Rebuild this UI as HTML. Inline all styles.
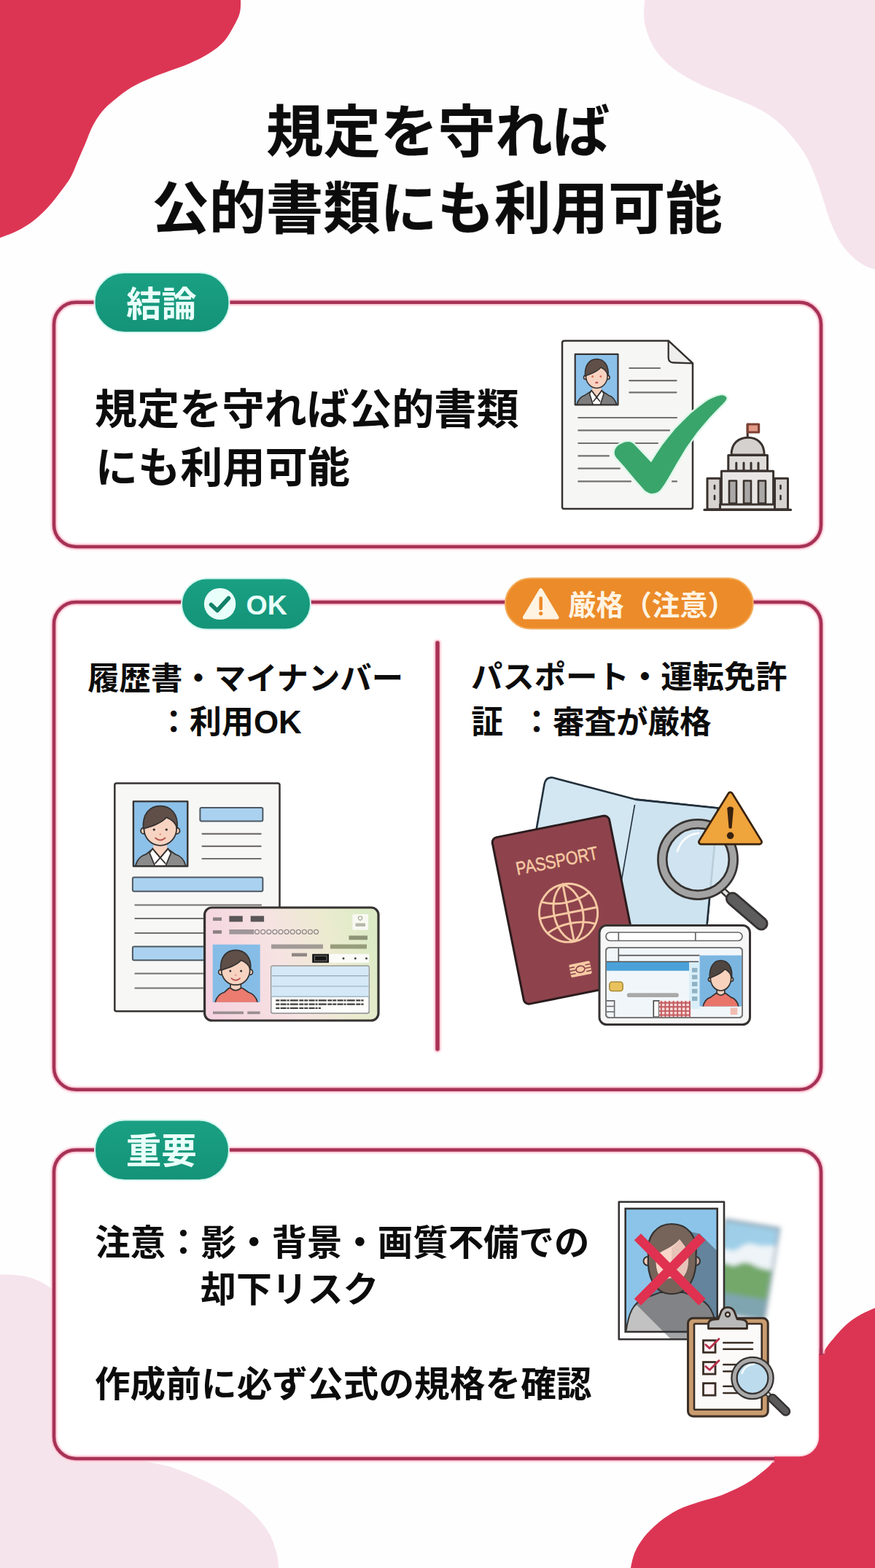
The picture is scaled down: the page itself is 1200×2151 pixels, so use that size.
<!DOCTYPE html>
<html lang="ja">
<head>
<meta charset="utf-8">
<title>規定を守れば公的書類にも利用可能</title>
<style>
html,body{margin:0;padding:0;background:#fefefe;}
body{width:1200px;height:2151px;position:relative;overflow:hidden;font-family:"Liberation Sans","Noto Sans CJK JP",sans-serif;}
#page{position:absolute;left:0;top:0;width:1200px;height:2151px;overflow:hidden;background:#fefefe;}
svg text{font-family:"Liberation Sans","Noto Sans CJK JP",sans-serif;font-weight:bold;}
</style>
</head>
<body>
<div id="page">
<svg width="1200" height="2151" viewBox="0 0 1200 2151" style="position:absolute;left:0;top:0"><defs><clipPath id="cp1"><rect x="788.7" y="485.8" width="58.8" height="69.5"/></clipPath><clipPath id="cp2"><rect x="182.9" y="1099.4" width="74.4" height="88.9"/></clipPath><linearGradient id="mn" x1="0" y1="0.6" x2="1" y2="0.4"><stop offset="0" stop-color="#f5d3e0"/><stop offset="0.45" stop-color="#f6e3e2"/><stop offset="0.75" stop-color="#ecebd0"/><stop offset="1" stop-color="#dcebc6"/></linearGradient><clipPath id="cp3"><rect x="291.7" y="1295.7" width="65" height="79.1"/></clipPath><clipPath id="cp4"><rect x="959.500" y="1310.600" width="57.500" height="70"/></clipPath><filter id="bl" x="-20%" y="-20%" width="140%" height="140%"><feGaussianBlur stdDeviation="3.200"/></filter><clipPath id="cpl"><rect x="0" y="0" width="78" height="130"/></clipPath><clipPath id="cp5"><rect x="857.700" y="1658" width="126" height="169"/></clipPath><clipPath id="cp6"><rect x="857.700" y="1658" width="126" height="178"/></clipPath><linearGradient id="tg" x1="0" y1="0" x2="0" y2="1"><stop offset="0" stop-color="#1aa083"/><stop offset="1" stop-color="#149378"/></linearGradient></defs><path d="M330.0,-5.0C329.8,-1.3 330.7,10.0 329.0,17.0C327.3,24.0 323.7,30.3 320.0,37.0C316.3,43.7 312.5,51.0 307.0,57.0C301.5,63.0 294.8,68.0 287.0,73.0C279.2,78.0 269.0,83.0 260.0,87.0C251.0,91.0 241.8,93.7 233.0,97.0C224.2,100.3 215.8,103.2 207.0,107.0C198.2,110.8 188.3,115.0 180.0,120.0C171.7,125.0 163.7,131.5 157.0,137.0C150.3,142.5 145.0,147.0 140.0,153.0C135.0,159.0 130.8,165.7 127.0,173.0C123.2,180.3 120.3,189.2 117.0,197.0C113.7,204.8 110.3,212.3 107.0,220.0C103.7,227.7 101.0,235.8 97.0,243.0C93.0,250.2 88.0,256.3 83.0,263.0C78.0,269.7 73.0,276.5 67.0,283.0C61.0,289.5 54.3,296.3 47.0,302.0C39.7,307.7 31.7,312.7 23.0,317.0C14.3,321.3 -0.3,326.2 -5.0,328.0 L-5,-5 Z" fill="#dc3554"/>
<path d="M885.0,-5.0C884.7,-0.8 882.7,12.0 883.0,20.0C883.3,28.0 884.5,35.2 887.0,43.0C889.5,50.8 893.3,59.7 898.0,67.0C902.7,74.3 908.5,81.0 915.0,87.0C921.5,93.0 929.0,98.0 937.0,103.0C945.0,108.0 954.2,112.8 963.0,117.0C971.8,121.2 980.5,124.2 990.0,128.0C999.5,131.8 1010.5,135.8 1020.0,140.0C1029.5,144.2 1038.7,148.0 1047.0,153.0C1055.3,158.0 1062.8,163.5 1070.0,170.0C1077.2,176.5 1083.8,184.2 1090.0,192.0C1096.2,199.8 1102.0,207.8 1107.0,217.0C1112.0,226.2 1116.2,237.0 1120.0,247.0C1123.8,257.0 1126.7,267.0 1130.0,277.0C1133.3,287.0 1136.2,297.7 1140.0,307.0C1143.8,316.3 1148.0,325.3 1153.0,333.0C1158.0,340.7 1164.3,347.7 1170.0,353.0C1175.7,358.3 1181.2,362.0 1187.0,365.0C1192.8,368.0 1202.0,370.0 1205.0,371.0 L1205,-5 Z" fill="#f6e4ec"/>
<path d="M-5.0,1748.0C0.8,1748.3 20.0,1748.3 30.0,1750.0C40.0,1751.7 47.5,1754.3 55.0,1758.0C62.5,1761.7 67.5,1765.0 75.0,1772.0C82.5,1779.0 90.8,1778.7 100.0,1800.0C109.2,1821.3 120.0,1870.0 130.0,1900.0C140.0,1930.0 149.0,1962.8 160.0,1980.0C171.0,1997.2 183.8,1997.7 196.0,2003.0C208.2,2008.3 220.5,2008.0 233.0,2012.0C245.5,2016.0 258.5,2021.3 271.0,2027.0C283.5,2032.7 296.2,2038.7 308.0,2046.0C319.8,2053.3 332.2,2062.0 342.0,2071.0C351.8,2080.0 360.8,2090.3 367.0,2100.0C373.2,2109.7 376.3,2119.7 379.0,2129.0C381.7,2138.3 382.3,2151.5 383.0,2156.0 L-5,2156 Z" fill="#f6e4ec"/>
<path d="M1205.0,1792.0C1201.0,1793.8 1188.2,1799.0 1181.0,1803.0C1173.8,1807.0 1168.2,1810.7 1162.0,1816.0C1155.8,1821.3 1149.5,1828.3 1144.0,1835.0C1138.5,1841.7 1134.7,1845.2 1129.0,1856.0C1123.3,1866.8 1116.5,1882.7 1110.0,1900.0C1103.5,1917.3 1098.2,1942.7 1090.0,1960.0C1081.8,1977.3 1069.0,1993.7 1061.0,2004.0C1053.0,2014.3 1048.8,2016.5 1042.0,2022.0C1035.2,2027.5 1028.7,2032.2 1020.0,2037.0C1011.3,2041.8 1000.0,2047.2 990.0,2051.0C980.0,2054.8 970.0,2056.7 960.0,2060.0C950.0,2063.3 939.3,2066.3 930.0,2071.0C920.7,2075.7 911.8,2081.7 904.0,2088.0C896.2,2094.3 888.7,2101.8 883.0,2109.0C877.3,2116.2 873.2,2123.2 870.0,2131.0C866.8,2138.8 865.0,2151.8 864.0,2156.0 L1205,2156 Z" fill="#dc3554"/>
<rect x="74" y="414.8" width="1052" height="335.2" rx="30" ry="30" fill="#ffffff" stroke="#ffdbe4" stroke-opacity=".55" stroke-width="11"/>
<rect x="74" y="414.8" width="1052" height="335.2" rx="30" ry="30" fill="none" stroke="#f5a3b9" stroke-opacity=".55" stroke-width="7.4"/>
<rect x="74" y="414.8" width="1052" height="335.2" rx="30" ry="30" fill="none" stroke="#a63256" stroke-width="4.5"/>
<rect x="74" y="826" width="1052" height="668.8" rx="30" ry="30" fill="#ffffff" stroke="#ffdbe4" stroke-opacity=".55" stroke-width="11"/>
<rect x="74" y="826" width="1052" height="668.8" rx="30" ry="30" fill="none" stroke="#f5a3b9" stroke-opacity=".55" stroke-width="7.4"/>
<rect x="74" y="826" width="1052" height="668.8" rx="30" ry="30" fill="none" stroke="#a63256" stroke-width="4.5"/>
<rect x="74" y="1577.6" width="1052" height="423.4000000000001" rx="30" ry="30" fill="#ffffff" stroke="#ffdbe4" stroke-opacity=".55" stroke-width="11"/>
<rect x="74" y="1577.6" width="1052" height="423.4000000000001" rx="30" ry="30" fill="none" stroke="#f5a3b9" stroke-opacity=".55" stroke-width="7.4"/>
<rect x="74" y="1577.6" width="1052" height="423.4000000000001" rx="30" ry="30" fill="none" stroke="#a63256" stroke-width="4.5"/>
<path d="M1128,1857 L1128,1971 A32,32 0 0 1 1096,2003 L1062,2003" fill="none" stroke="#dc3554" stroke-width="9.4"/>
<path d="M1126,1850 L1126,1859" fill="none" stroke="#a63256" stroke-width="4.5"/>
<line x1="600" y1="882" x2="600" y2="1439" stroke="#ffdbe4" stroke-opacity=".55" stroke-width="12" stroke-linecap="round"/>
<line x1="600" y1="882" x2="600" y2="1439" stroke="#f5a3b9" stroke-opacity=".55" stroke-width="8.4" stroke-linecap="round"/>
<line x1="600" y1="882" x2="600" y2="1439" stroke="#a63256" stroke-width="5.4" stroke-linecap="round"/>
<text x="365.04" y="209.29" font-size="78.55" fill="#0c0c0c" stroke="#0c0c0c" stroke-width="0.25" stroke-linejoin="round">規定を守れば</text>
<text x="208.56" y="314.49" font-size="78.22" fill="#0c0c0c" stroke="#0c0c0c" stroke-width="0.25" stroke-linejoin="round">公的書類にも利用可能</text>
<rect x="129.5" y="374" width="185.0" height="82" rx="41.0" fill="url(#tg)" stroke="#d4f6ef" stroke-width="2"/>
<text x="173.23" y="434.40" font-size="48.17" fill="#e9fff9">結論</text>
<rect x="130" y="1536.5" width="184" height="82.5" rx="41.25" fill="url(#tg)" stroke="#d4f6ef" stroke-width="2"/>
<text x="172.76" y="1596.41" font-size="48.59" fill="#e9fff9">重要</text>
<rect x="249" y="793.6" width="177" height="70.0" rx="35.0" fill="url(#tg)" stroke="#d4f6ef" stroke-width="2"/>
<circle cx="301.6" cy="828.4" r="21.7" fill="#e9fff9"/>
<path d="M289.5,829.5 L298,837.5 L313.5,820.5" fill="none" stroke="#14806a" stroke-width="5.6" stroke-linecap="round" stroke-linejoin="round"/>
<text x="337.57" y="843.07" font-size="37.55" fill="#e9fff9">OK</text>
<rect x="693" y="793.3" width="339.79999999999995" height="69.20000000000005" rx="34.60000000000002" fill="#ec8b29" stroke="#f3ac5c" stroke-width="2"/>
<path d="M741.7,809.5 L764,847 L719.4,847 Z" fill="#fff3e2" stroke="#fff3e2" stroke-width="5" stroke-linejoin="round"/>
<path d="M741.7,820.5 L741.7,835" stroke="#ec8b29" stroke-width="4.6" stroke-linecap="round"/><circle cx="741.7" cy="841.6" r="2.7" fill="#ec8b29"/>
<text x="779.24" y="843.59" font-size="38.24" fill="#fff3e2">厳格（注意）</text>
<text x="129.85" y="581.71" font-size="58.19" fill="#0c0c0c">規定を守れば公的書類</text>
<text x="130.76" y="661.86" font-size="58.22" fill="#0c0c0c">にも利用可能</text>
<text x="120.22" y="945.91" font-size="43.38" fill="#0c0c0c">履歴書・マイナンバー</text>
<text x="216.22" y="1005.92" font-size="43.9" fill="#0c0c0c">：利用OK</text>
<text x="646.04" y="944.14" font-size="43.37" fill="#0c0c0c">パスポート・運転免許</text>
<text x="646.29" y="1006.07" font-size="43.8" fill="#0c0c0c">証</text>
<text x="714.36" y="1006.06" font-size="43.55" fill="#0c0c0c">：審査が厳格</text>
<text x="130.29" y="1721.60" font-size="48.45" fill="#0c0c0c">注意：影・背景・画質不備での</text>
<text x="275.03" y="1786.19" font-size="48.9" fill="#0c0c0c">却下リスク</text>
<text x="129.93" y="1915.75" font-size="48.7" fill="#0c0c0c">作成前に必ず公式の規格を確認</text>
<path d="M771,470.5 Q771,467.5 774,467.5 L916.7,467.5 L950,498.3 L950,695.5 Q950,698 947.5,698 L773.5,698 Q771,698 771,695.5 Z" fill="#f6f6f4" stroke="#353231" stroke-width="2.5" stroke-linejoin="round"/>
<path d="M916.7,467.5 L916.7,490.5 Q916.7,497.3 923.5,497.5 L950,498.3 Z" fill="#eeeeec" stroke="#353231" stroke-width="2.3" stroke-linejoin="round"/>
<rect x="788.7" y="485.8" width="58.8" height="69.5" fill="#8cc1e9"/>
<g clip-path="url(#cp1)" stroke="#353231" stroke-width="1.6" stroke-linejoin="round" stroke-linecap="round"><path d="M790.3,558.3 C792.0,548.0 795.9,543.8 802.6,541.9 L811.3,536.1 L825.3,536.1 L834.0,541.9 C840.7,543.8 844.6,548.0 846.3,558.3 Z" fill="#7d7d7d"/><path d="M811.3,535.6 L818.3,544.1 L825.3,535.6 L828.1,540.1 L822.3,558.3 L814.3,558.3 L808.5,540.1 Z" fill="#ffffff"/><path d="M811.3,535.6 L818.3,544.9 L825.3,535.6 M818.3,544.9 L813.9,550.5 M818.3,544.9 L822.7,550.5" fill="none"/><path d="M812.8,527.7 L811.9,536.1 L818.3,544.1 L824.7,536.1 L823.8,527.7 Z" fill="#f7d3c1" stroke="none"/><path d="M811.3,535.6 L818.3,544.9 L825.3,535.6" fill="none"/><circle cx="803.3" cy="517.7" r="2.8" fill="#f7d3c1"/><circle cx="833.3" cy="517.7" r="2.8" fill="#f7d3c1"/><ellipse cx="818.3" cy="515.7" rx="14.8" ry="16.8" fill="#f7d3c1"/><path d="M802.6,515.7 C801.4,500.5 808.8,492.5 818.3,492.5 C827.8,492.5 835.2,500.5 834.0,514.9 C832.4,510.1 828.7,506.1 823.9,504.1 C819.8,509.7 810.9,512.9 802.6,515.7 Z" fill="#5f4f48"/><circle cx="812.7" cy="516.5" r="1.1" fill="#353231" stroke="none"/><circle cx="823.9" cy="516.5" r="1.1" fill="#353231" stroke="none"/><circle cx="812.7" cy="516.5" r="1.4" fill="#e0795a" stroke="none"/><circle cx="823.9" cy="516.5" r="1.4" fill="#e0795a" stroke="none"/><ellipse cx="818.3" cy="524.9" rx="2.2" ry="1.4" fill="#c65a5a" stroke="none"/></g>
<rect x="788.7" y="485.8" width="58.8" height="69.5" fill="none" stroke="#353231" stroke-width="2.2" stroke-linejoin="round"/>
<line x1="863.3" y1="505" x2="905" y2="505" stroke="#73716e" stroke-width="2.2" stroke-linecap="round"/>
<line x1="863.3" y1="522.2" x2="927.5" y2="522.2" stroke="#73716e" stroke-width="2.2" stroke-linecap="round"/>
<line x1="863.3" y1="538.3" x2="927.5" y2="538.3" stroke="#73716e" stroke-width="2.2" stroke-linecap="round"/>
<line x1="793.3" y1="573" x2="928" y2="573" stroke="#73716e" stroke-width="2.2" stroke-linecap="round"/>
<line x1="793.3" y1="590.4" x2="918" y2="590.4" stroke="#73716e" stroke-width="2.2" stroke-linecap="round"/>
<line x1="793.3" y1="608" x2="902" y2="608" stroke="#73716e" stroke-width="2.2" stroke-linecap="round"/>
<line x1="793.3" y1="625.4" x2="835" y2="625.4" stroke="#73716e" stroke-width="2.2" stroke-linecap="round"/>
<line x1="793.3" y1="642.6" x2="850" y2="642.6" stroke="#73716e" stroke-width="2.2" stroke-linecap="round"/>
<line x1="793.3" y1="660.4" x2="865" y2="660.4" stroke="#73716e" stroke-width="2.2" stroke-linecap="round"/>
<line x1="922" y1="660.4" x2="928" y2="660.4" stroke="#73716e" stroke-width="2.2" stroke-linecap="round"/>
<path d="M842.8,620 C843.5,614 848,610 853,608.3 C857,606 862.5,605.2 866,607 C868,608 869,608.7 870,610 L893,634.3 C898,626 903,618.5 908,611 C914,603 920,595.5 926,588.5 C933,581 940,574 947,567.5 C954,561.5 961,556 968,551 C974.5,547 981,544 987.5,542.6 C990.5,542 993,542.5 994.5,543.6 C996.5,544.8 996.8,546.3 996.3,547.6 C994.5,551 992,553.5 989,556.3 C983.5,562 978,567.7 972.5,573.5 C967,580 961.5,586.5 956,593 C951,600 946,607 941,614 C936.5,621.5 932,629 927.5,636.5 C923.5,643.5 919.5,650.5 915.5,657.5 C912.5,662.5 909.5,667 906.5,671 C904,674 902,675.5 899,676.3 C896.5,677 894,677 891.5,676.7 C889,676 886.5,674.5 884,672.5 C880,668 876,663.5 872,659 L857,641 L845,627.5 C843.3,625 842.5,622.5 842.8,620 Z" fill="#3aa56b" stroke="#def8ea" stroke-width="4.6" paint-order="stroke" stroke-linejoin="round"/>
<g stroke="#3a322e" stroke-width="3" stroke-linejoin="round" stroke-linecap="round"><line x1="1025.2" y1="582" x2="1025.2" y2="601"/><rect x="1025.2" y="582" width="15.4" height="11" fill="#e49a88" stroke="#7d4034" stroke-width="3.2"/><path d="M1003,624 C1003,608 1013,600.3 1025.6,600.3 C1038.2,600.3 1048.2,608 1048.2,624 Z" fill="#d5d1ce"/><rect x="998.8" y="624.4" width="53.7" height="21.6" fill="#dedbd8"/><line x1="1009.8" y1="635" x2="1009.8" y2="645.5"/><line x1="1020" y1="635" x2="1020" y2="645.5"/><line x1="1030" y1="635" x2="1030" y2="645.5"/><line x1="1040" y1="635" x2="1040" y2="645.5"/><rect x="970" y="656.3" width="18" height="42.5" fill="#d6d3d0"/><rect x="1062.5" y="656.3" width="18" height="42.5" fill="#d6d3d0"/><line x1="980" y1="666" x2="980" y2="670.5" stroke-width="2.6"/><line x1="980" y1="680" x2="980" y2="685" stroke-width="2.6"/><line x1="1070.5" y1="666" x2="1070.5" y2="670.5" stroke-width="2.6"/><line x1="1070.5" y1="680" x2="1070.5" y2="685" stroke-width="2.6"/><rect x="989.4" y="646.3" width="71.2" height="46.5" fill="#e9e7e5"/><rect x="1000" y="659.5" width="10" height="31" fill="#aaa8a7" stroke-width="2.6"/><rect x="1020" y="659.5" width="10" height="31" fill="#aaa8a7" stroke-width="2.6"/><rect x="1040" y="659.5" width="10" height="31" fill="#aaa8a7" stroke-width="2.6"/><rect x="987.5" y="692" width="75" height="7" fill="#ebe9e7"/><line x1="966" y1="699.4" x2="1084.5" y2="699.4" stroke-width="3.2"/></g>
<path d="M157.3,1077 Q157.3,1074.6 159.8,1074.6 L381,1074.6 Q383.5,1074.6 383.5,1077 L383.5,1385 Q383.5,1387.3 381,1387.3 L159.8,1387.3 Q157.3,1387.3 157.3,1385 Z" fill="#f7f7f5" stroke="#353231" stroke-width="2.5" stroke-linejoin="round"/>
<rect x="182.9" y="1099.4" width="74.4" height="88.9" fill="#8cc1e9"/>
<g clip-path="url(#cp2)" stroke="#353231" stroke-width="1.8" stroke-linejoin="round" stroke-linecap="round"><path d="M185.0,1191.3 C187.1,1179.3 192.1,1174.1 200.5,1171.8 L209.3,1164.7 L230.3,1164.7 L240.1,1171.8 C248.5,1174.1 253.5,1179.3 255.6,1191.3 Z" fill="#8b8b8b"/><path d="M209.3,1164.2 L219.8,1175.5 L230.3,1164.2 L234.5,1170.1 L225.8,1191.3 L213.8,1191.3 L205.1,1170.1 Z" fill="#ffffff"/><path d="M209.3,1164.2 L219.8,1176.6 L230.3,1164.2 M219.8,1176.6 L213.1,1184.2 M219.8,1176.6 L226.5,1184.2" fill="none"/><path d="M211.5,1153.3 L209.9,1164.7 L219.8,1175.5 L229.7,1164.7 L228.1,1153.3 Z" fill="#f7d3c1" stroke="none"/><path d="M209.3,1164.2 L219.8,1176.6 L230.3,1164.2" fill="none"/><circle cx="197.3" cy="1139.7" r="4.2" fill="#f7d3c1"/><circle cx="242.3" cy="1139.7" r="4.2" fill="#f7d3c1"/><ellipse cx="219.8" cy="1137.0" rx="22.3" ry="22.8" fill="#f7d3c1"/><path d="M196.6,1137.0 C194.8,1116.4 205.5,1105.6 219.8,1105.6 C234.1,1105.6 244.8,1116.4 243.0,1136.0 C241.0,1129.4 235.4,1124.0 228.3,1121.3 C222.0,1128.9 208.7,1133.2 196.6,1137.0 Z" fill="#5f4f48"/><circle cx="211.3" cy="1138.1" r="1.7" fill="#353231" stroke="none"/><circle cx="228.3" cy="1138.1" r="1.7" fill="#353231" stroke="none"/><path d="M213.1,1149.5 Q219.8,1155.5 226.5,1149.5" fill="none" stroke="#b8514a" stroke-width="1.8"/><circle cx="219.8" cy="1144.6" r="1.3" fill="#e39a8a" stroke="none"/></g>
<rect x="182.9" y="1099.4" width="74.4" height="88.9" fill="none" stroke="#353231" stroke-width="2.4" stroke-linejoin="round"/>
<rect x="274.4" y="1108" width="86" height="18.5" rx="2" fill="#aad2f0" stroke="#4d5862" stroke-width="2"/>
<rect x="181.9" y="1203.5" width="178.5" height="19.2" rx="2" fill="#aad2f0" stroke="#4d5862" stroke-width="2"/>
<rect x="181.9" y="1298.4" width="178.5" height="18.8" rx="2" fill="#aad2f0" stroke="#4d5862" stroke-width="2"/>
<line x1="277.5" y1="1143.8" x2="357.7" y2="1143.8" stroke="#73716e" stroke-width="2.2" stroke-linecap="round"/>
<line x1="277.5" y1="1160.8" x2="357.7" y2="1160.8" stroke="#73716e" stroke-width="2.2" stroke-linecap="round"/>
<line x1="277.5" y1="1178" x2="357.7" y2="1178" stroke="#73716e" stroke-width="2.2" stroke-linecap="round"/>
<line x1="185.4" y1="1241.5" x2="358" y2="1241.5" stroke="#73716e" stroke-width="2.2" stroke-linecap="round"/>
<line x1="185.4" y1="1260" x2="358" y2="1260" stroke="#73716e" stroke-width="2.2" stroke-linecap="round"/>
<line x1="185.4" y1="1280" x2="358" y2="1280" stroke="#73716e" stroke-width="2.2" stroke-linecap="round"/>
<line x1="185.4" y1="1335.5" x2="358" y2="1335.5" stroke="#73716e" stroke-width="2.2" stroke-linecap="round"/>
<line x1="185.4" y1="1355.5" x2="358" y2="1355.5" stroke="#73716e" stroke-width="2.2" stroke-linecap="round"/>
<rect x="280.6" y="1245" width="238.4" height="155" rx="10" fill="url(#mn)" stroke="#353231" stroke-width="3.2"/>
<rect x="291.7" y="1295.7" width="65" height="79.1" fill="#86bde7"/>
<g clip-path="url(#cp3)" stroke="#353231" stroke-width="1.7" stroke-linejoin="round" stroke-linecap="round"><path d="M294.5,1377.8 C296.3,1367.5 300.4,1363.2 307.5,1361.3 L314.0,1355.5 L332.4,1355.5 L340.8,1361.3 C347.9,1363.2 352.0,1367.5 353.8,1377.8 Z" fill="#ec7b70"/><path d="M316.0,1345.5 L316.0,1355.5 Q323.2,1361.7 330.4,1355.5 L330.4,1345.5 Z" fill="#f7d3c1"/><circle cx="303.5" cy="1333.5" r="3.7" fill="#f7d3c1"/><circle cx="342.9" cy="1333.5" r="3.7" fill="#f7d3c1"/><ellipse cx="323.2" cy="1331.1" rx="19.5" ry="20.1" fill="#f7d3c1"/><path d="M302.8,1331.1 C301.2,1312.9 310.7,1303.3 323.2,1303.3 C335.7,1303.3 345.2,1312.9 343.6,1330.1 C341.7,1324.4 336.8,1319.6 330.6,1317.2 C325.1,1323.9 313.4,1327.7 302.8,1331.1 Z" fill="#5f4f48"/><circle cx="315.8" cy="1332.0" r="1.5" fill="#353231" stroke="none"/><circle cx="330.6" cy="1332.0" r="1.5" fill="#353231" stroke="none"/><path d="M317.3,1342.1 Q323.2,1347.4 329.1,1342.1" fill="none" stroke="#b8514a" stroke-width="1.7"/><circle cx="323.2" cy="1337.8" r="1.2" fill="#e39a8a" stroke="none"/></g>
<rect x="292" y="1258.5" width="12" height="4.6" fill="#6f6a6c" opacity=".8"/><rect x="314.4" y="1256.5" width="18.4" height="8" fill="#5a5557"/><rect x="343.7" y="1256.5" width="18.4" height="8" fill="#5a5557"/><rect x="292" y="1276.2" width="12" height="4.6" fill="#6f6a6c" opacity=".8"/><rect x="314.4" y="1275" width="34" height="6.6" fill="#8f8a8c" opacity=".85"/><circle cx="352.6" cy="1278.3" r="3" fill="none" stroke="#8f8a8c" stroke-width="1.3"/><circle cx="360.7" cy="1278.3" r="3" fill="none" stroke="#8f8a8c" stroke-width="1.3"/><circle cx="368.8" cy="1278.3" r="3" fill="none" stroke="#8f8a8c" stroke-width="1.3"/><circle cx="376.9" cy="1278.3" r="3" fill="none" stroke="#8f8a8c" stroke-width="1.3"/><circle cx="385.0" cy="1278.3" r="3" fill="none" stroke="#8f8a8c" stroke-width="1.3"/><circle cx="393.1" cy="1278.3" r="3" fill="none" stroke="#8f8a8c" stroke-width="1.3"/><circle cx="401.2" cy="1278.3" r="3" fill="none" stroke="#8f8a8c" stroke-width="1.3"/><circle cx="409.3" cy="1278.3" r="3" fill="none" stroke="#8f8a8c" stroke-width="1.3"/><circle cx="417.4" cy="1278.3" r="3" fill="none" stroke="#8f8a8c" stroke-width="1.3"/><circle cx="425.5" cy="1278.3" r="3" fill="none" stroke="#8f8a8c" stroke-width="1.3"/><circle cx="433.6" cy="1278.3" r="3" fill="none" stroke="#8f8a8c" stroke-width="1.3"/><rect x="483.4" y="1254" width="21.7" height="21.7" rx="1.5" fill="#fbfbf6" opacity=".9"/><path d="M491.5,1258 q3,-2 5,0 q1,3 -2.5,4.500 q-3.500,-1.500 -2.500,-4.500 Z" fill="none" stroke="#9aa08a" stroke-width="1.1"/><rect x="487.5" y="1266.5" width="13.5" height="4.4" fill="#a3a896" opacity=".8"/><rect x="478.5" y="1283.5" width="25.5" height="5.8" fill="#7e8468" opacity=".85"/><rect x="372" y="1295.500" width="71" height="6" fill="#86807f" opacity=".75"/><rect x="453" y="1295.500" width="50" height="6" fill="#838866" opacity=".8"/><rect x="400" y="1307.500" width="21" height="4.600" fill="#77706f" opacity=".8"/><rect x="428.2" y="1308.700" width="23" height="12" fill="#151515"/><rect x="431.500" y="1311.300" width="16.500" height="6.800" fill="none" stroke="#777" stroke-width="1"/><rect x="451.2" y="1308.700" width="55" height="12" fill="#fbfbf8"/><circle cx="471" cy="1314.700" r="1.500" fill="#444"/><circle cx="487.3" cy="1314.700" r="1.500" fill="#444"/><circle cx="502.5" cy="1314.700" r="1.500" fill="#444"/><rect x="371.800" y="1325" width="134.400" height="65" rx="2.500" fill="#fdfdfb" stroke="#8a8d8f" stroke-width="1.400"/><rect x="372.600" y="1325.800" width="132.800" height="41.400" fill="#d5e8f5"/><line x1="372.600" y1="1338.6" x2="505.400" y2="1338.6" stroke="#8fa9bb" stroke-width="1.200"/><line x1="372.600" y1="1353" x2="505.400" y2="1353" stroke="#8fa9bb" stroke-width="1.200"/><line x1="372.600" y1="1367.2" x2="505.400" y2="1367.2" stroke="#8fa9bb" stroke-width="1.200"/><line x1="378.300" y1="1372.4" x2="498.6" y2="1372.4" stroke="#3c3c3c" stroke-width="2.200" stroke-dasharray="5 1.300 8 1 3 1.200 11 1.500 6 1"/><line x1="378.300" y1="1377.6" x2="498.6" y2="1377.6" stroke="#3c3c3c" stroke-width="2.200" stroke-dasharray="5 1.300 8 1 3 1.200 11 1.500 6 1"/><line x1="378.300" y1="1383" x2="440" y2="1383" stroke="#3c3c3c" stroke-width="2.200" stroke-dasharray="5 1.300 8 1 3 1.200 11 1.500 6 1"/><rect x="292" y="1387.500" width="42" height="3.600" fill="#7b7577" opacity=".75"/><rect x="339.300" y="1387.500" width="17.400" height="3.600" fill="#7b7577" opacity=".75"/>
<path d="M746.5,1076 Q748.5,1065.500 758,1066.800 L871,1096.600 L984.700,1108.500 L968,1285 L735,1285 L722,1215 Z" fill="#d3e7f2" stroke="#22303c" stroke-width="2.600" stroke-linejoin="round"/>
<path d="M871,1098 L984,1109.500 L968,1284 L838,1284 Z" fill="#cde3ef"/>
<path d="M870.500,1104 L838,1290" stroke="#22303c" stroke-width="1.600" fill="none"/>
<path d="M871,1096.600 L984.700,1108.500 L968.500,1280" stroke="#22303c" stroke-width="2.600" fill="none" stroke-linejoin="round"/>
<g transform="translate(674 1150) rotate(-11.3)"><rect x="0" y="0" width="163.500" height="233" rx="7" fill="#8e434c" stroke="#2b1c1e" stroke-width="3"/><text transform="translate(25 56.5) scale(1 1.197)" x="0" y="0" font-size="21.3" style="font-family:'Liberation Sans',sans-serif;font-weight:normal" fill="#f6c9a3" stroke="#f6c9a3" stroke-width="0.45">PASSPORT</text><g fill="none" stroke="#f6c9a3" stroke-width="2.900" stroke-linecap="round"><circle cx="83.500" cy="121" r="40"/><path d="M83.500,81 L83.500,161 M43.500,121 L123.500,121"/><path d="M83.500,81 C57,95 57,147 83.500,161 M83.500,81 C110,95 110,147 83.500,161"/><path d="M50,99 C70,109 97,109 117,99 M50,143 C70,133 97,133 117,143"/></g><g><rect x="70" y="191" width="29" height="18" rx="2" fill="#f6c9a3"/><path d="M70,200 L78,200 M91,200 L99,200 M70,195.500 L77,195.500 M70,204.500 L77,204.500 M92,195.500 L99,195.500 M92,204.500 L99,204.500" stroke="#8e434c" stroke-width="1.600"/><ellipse cx="84.500" cy="200" rx="6" ry="4.500" fill="none" stroke="#8e434c" stroke-width="1.700"/></g></g>
<path d="M990,1220 L1003,1232.500" stroke="#353231" stroke-width="9" stroke-linecap="round"/><path d="M990,1220 L1003,1232.500" stroke="#e4e4e4" stroke-width="4.500" stroke-linecap="round"/>
<path d="M1004.500,1233 L1044,1267" stroke="#353231" stroke-width="19" stroke-linecap="round"/><path d="M1004.500,1233 L1044,1267" stroke="#5d5d5d" stroke-width="13.500" stroke-linecap="round"/>
<circle cx="957" cy="1179" r="48.700" fill="#cfe4f0" fill-opacity=".88" stroke="#353231" stroke-width="14.500"/>
<circle cx="957" cy="1179" r="48.700" fill="none" stroke="#a3a3a3" stroke-width="9"/>
<path d="M929,1168 C933,1153 945,1144 958,1143" fill="none" stroke="#ffffff" stroke-width="2.600" stroke-linecap="round"/>
<path d="M1001.600,1090 L1041.500,1155 L961.500,1155 Z" fill="#f0a43c" stroke="#38220f" stroke-width="9" stroke-linejoin="round"/>
<path d="M1001.600,1090 L1041.500,1155 L961.500,1155 Z" fill="#f0a43c" stroke="#f0a43c" stroke-width="3.500" stroke-linejoin="round"/>
<path d="M997.200,1108.500 Q1001.600,1104.500 1006,1108.500 L1003.600,1135.500 Q1001.600,1138 999.600,1135.500 Z" fill="#38220f"/><circle cx="1001.600" cy="1146.300" r="4.800" fill="#38220f"/>
<rect x="822" y="1269.500" width="206.500" height="136" rx="10" fill="#f6f6f6" stroke="#353231" stroke-width="3"/>
<rect x="831" y="1279" width="187" height="11.500" rx="5.700" fill="#ffffff" stroke="#666" stroke-width="1.700"/><path d="M848.300,1279 V1290.500 M953.800,1279 V1290.500" stroke="#666" stroke-width="1.700"/><rect x="831" y="1300" width="187" height="96" rx="4.500" fill="#f1f6fa" stroke="#777" stroke-width="2"/><path d="M848.300,1300 V1319 M848.300,1310.600 H959.500 M832,1319.300 H958" stroke="#555" stroke-width="1.600" fill="none"/><rect x="832" y="1320" width="113" height="11.700" fill="#4aa1d9"/><rect x="945" y="1320" width="14.500" height="64" fill="#d9eef8"/><rect x="949" y="1327.8" width="7.400" height="6" fill="#8fb2c4"/><rect x="949" y="1337.4" width="7.400" height="6" fill="#8fb2c4"/><rect x="949" y="1347" width="7.400" height="6" fill="#8fb2c4"/><rect x="949" y="1356.6" width="7.400" height="6" fill="#8fb2c4"/><rect x="949" y="1367" width="7.400" height="6" fill="#8fb2c4"/><rect x="835.900" y="1347" width="18.200" height="12.500" rx="3.500" fill="#e9c25e" stroke="#a98a36" stroke-width="1.600"/><rect x="859.800" y="1362.300" width="71" height="5.700" rx="2.800" fill="#a9a9a9"/><rect x="896.300" y="1372.900" width="7.700" height="22.200" fill="#fff" stroke="#444" stroke-width="1.600"/><rect x="904" y="1372.900" width="42" height="22.200" fill="#f6dada"/><path d="M906.8,1372.900 V1395.100 M912.4,1372.900 V1395.100 M918.0,1372.900 V1395.100 M923.6,1372.900 V1395.100 M929.2,1372.900 V1395.100 M934.8,1372.900 V1395.100 M940.4,1372.900 V1395.100 M946.0,1372.900 V1395.100 M904,1375.7 H946 M904,1381.3 H946 M904,1386.9 H946 M904,1392.5 H946 " stroke="#c25a5e" stroke-width="1.900" fill="none"/><path d="M832,1372.900 H842.600 V1395 M832,1380.500 H842.600 M832,1388 H842.600" stroke="#666" stroke-width="1.600" fill="none"/><rect x="959.500" y="1310.600" width="57.500" height="70" fill="#7bb6e1"/><rect x="1001.700" y="1382.500" width="9.600" height="9.500" fill="#f1b3a5" opacity=".85"/>
<g clip-path="url(#cp4)" stroke="#353231" stroke-width="1.7" stroke-linejoin="round" stroke-linecap="round"><path d="M963.5,1383.6 C965.0,1373.8 968.5,1369.9 974.5,1368.1 L981.8,1362.7 L995.2,1362.7 L1002.5,1368.1 C1008.5,1369.9 1012.0,1373.8 1013.5,1383.6 Z" fill="#e9756a"/><path d="M983.2,1354.0 L983.2,1362.7 Q988.5,1368.1 993.8,1362.7 L993.8,1354.0 Z" fill="#f9d2bd"/><circle cx="974.1" cy="1343.6" r="2.7" fill="#f9d2bd"/><circle cx="1002.9" cy="1343.6" r="2.7" fill="#f9d2bd"/><ellipse cx="988.5" cy="1341.6" rx="14.2" ry="17.4" fill="#f9d2bd"/><path d="M973.4,1341.6 C972.3,1325.8 979.4,1317.5 988.5,1317.5 C997.6,1317.5 1004.7,1325.8 1003.6,1340.7 C1002.0,1335.8 998.4,1331.6 993.9,1329.5 C989.9,1335.3 981.4,1338.7 973.4,1341.6 Z" fill="#4f4641"/></g>
<rect x="831" y="1300" width="187" height="96" rx="4.500" fill="none" stroke="#777" stroke-width="2"/>
<g filter="url(#bl)"><g transform="translate(993.800 1671) rotate(9.500)"><g clip-path="url(#cpl)"><rect x="0" y="0" width="78" height="130" fill="#8c9fae"/><rect x="3" y="4" width="72" height="100" fill="#9fcfe8"/><path d="M3,42 C12,40 18,46 26,38 C32,30 40,27 48,29 C58,31 66,26 75,26 L75,72 L3,72 Z" fill="#eef4f8"/><path d="M3,62 C12,58 20,66 28,60 C34,55 42,54 50,57 C58,60 66,60 75,60 L75,104 L3,104 Z" fill="#73a86a"/><rect x="3" y="101" width="72" height="27" fill="#7fa5b0"/></g></g></g>
<rect x="848.800" y="1648.800" width="144.200" height="188.500" fill="#fdfdfd" stroke="#353231" stroke-width="2.600" stroke-linejoin="round"/>
<g clip-path="url(#cp5)"><rect x="857.700" y="1658" width="126" height="169" fill="#8cc4e9"/><path d="M858,1830 C862,1800 868,1788 884,1781 L905,1773 L938,1773 L958,1781 C973,1788 980,1800 984,1830 Z" fill="#c2c2c2" stroke="#353231" stroke-width="2"/></g>
<rect x="857.700" y="1658" width="126" height="169" fill="none" stroke="#353231" stroke-width="2.600"/>
<g clip-path="url(#cp6)"><path d="M925,1685 L959.800,1692.500 L1080,1812.700 L1080,1900 L983,1900 L871.300,1788.300 L905,1752 Z" fill="#2f3338" opacity=".44"/></g>
<g clip-path="url(#cp5)"><circle cx="888.500" cy="1730" r="6" fill="#f4cbb9" stroke="#353231" stroke-width="2"/><circle cx="954" cy="1730" r="6" fill="#caa99d" stroke="#353231" stroke-width="2"/><path d="M889,1722 C886,1694 902,1679 921,1679 C942,1679 957,1694 954.500,1722 C956,1750 946,1775 921,1775 C897,1775 887,1750 889,1722 Z" fill="#76645a" stroke="#353231" stroke-width="2.200"/><path d="M900,1722 C906,1716 922,1712 932,1700 C938,1708 944,1714 944,1724 C945,1740 940,1752 931,1757 C925,1752 917,1752 911,1757 C902,1752 898,1738 900,1722 Z" fill="#f8d6ca"/><path d="M932,1700 C938,1708 944,1714 944,1724 C945,1740 940,1752 931,1757 C928,1754 925,1753 921,1753 L921,1712 C926,1709 929,1705 932,1700 Z" fill="#d9b5a9" opacity=".55"/></g>
<path d="M874.400,1696.700 L963,1786.300 M963,1696.700 L874.400,1786.300" stroke="#e03150" stroke-width="13" stroke-linecap="butt"/>
<rect x="943.500" y="1808.300" width="109.700" height="134.600" rx="7" fill="#c99c6f" stroke="#3a2e26" stroke-width="3"/>
<rect x="952" y="1816" width="92.700" height="117.700" rx="1.500" fill="#fbfaf8" stroke="#3a2e26" stroke-width="2.600"/>
<path d="M971.500,1822.500 L971.500,1816 Q972,1810.500 979,1810 L985,1809.500 Q987.500,1803 989,1799 Q992,1793.300 998,1793.300 Q1004,1793.300 1007,1799 Q1008.500,1803 1011,1809.500 L1017,1810 Q1024,1810.500 1024.500,1816 L1024.500,1822.500 Z" fill="#b9b9b9" stroke="#3a2e26" stroke-width="2.800" stroke-linejoin="round"/>
<circle cx="998" cy="1803.200" r="3" fill="#fbfaf8" stroke="#3a2e26" stroke-width="2.400"/>
<rect x="964.500" y="1838.8" width="16.500" height="16.500" fill="#fdf3f3" stroke="#3a2e26" stroke-width="2.800"/>
<rect x="964.500" y="1868.5" width="16.500" height="16.500" fill="#fdf3f3" stroke="#3a2e26" stroke-width="2.800"/>
<rect x="964.500" y="1897.6" width="16.500" height="16.500" fill="#fdf3f3" stroke="#3a2e26" stroke-width="2.800"/>
<path d="M967.800,1844.8 L973.200,1849.6 L986,1836.8" fill="none" stroke="#b62f4b" stroke-width="2.800" stroke-linecap="round" stroke-linejoin="round"/>
<path d="M967.800,1874.5 L973.200,1879.3 L986,1866.5" fill="none" stroke="#b62f4b" stroke-width="2.800" stroke-linecap="round" stroke-linejoin="round"/>
<line x1="992.300" y1="1842" x2="1032" y2="1842" stroke="#3a2e26" stroke-width="2.600" stroke-linecap="round"/>
<line x1="992.300" y1="1850.8" x2="1032" y2="1850.8" stroke="#3a2e26" stroke-width="2.600" stroke-linecap="round"/>
<line x1="992.300" y1="1872" x2="1010" y2="1872" stroke="#3a2e26" stroke-width="2.600" stroke-linecap="round"/>
<line x1="992.300" y1="1881.3" x2="1010" y2="1881.3" stroke="#3a2e26" stroke-width="2.600" stroke-linecap="round"/>
<line x1="992.300" y1="1901.8" x2="1012" y2="1901.8" stroke="#3a2e26" stroke-width="2.600" stroke-linecap="round"/>
<line x1="992.300" y1="1911" x2="1012" y2="1911" stroke="#3a2e26" stroke-width="2.600" stroke-linecap="round"/>
<path d="M1051,1910.500 L1058,1917" stroke="#353231" stroke-width="7" stroke-linecap="round"/><path d="M1051,1910.500 L1058,1917" stroke="#dcdcdc" stroke-width="3.200" stroke-linecap="round"/>
<path d="M1059.500,1918.500 L1077.500,1936" stroke="#353231" stroke-width="13.500" stroke-linecap="round"/><path d="M1059.500,1918.500 L1077.500,1936" stroke="#5a5a5a" stroke-width="8.600" stroke-linecap="round"/>
<circle cx="1032" cy="1890.500" r="25" fill="#bcdcee" stroke="#353231" stroke-width="9.600"/>
<circle cx="1032" cy="1890.500" r="25" fill="none" stroke="#a9a9a9" stroke-width="5"/>
<path d="M1017.500,1884 C1020,1876 1027,1872 1034,1871.500" fill="none" stroke="#ffffff" stroke-width="2.200" stroke-linecap="round"/></svg>
</div>
</body>
</html>
